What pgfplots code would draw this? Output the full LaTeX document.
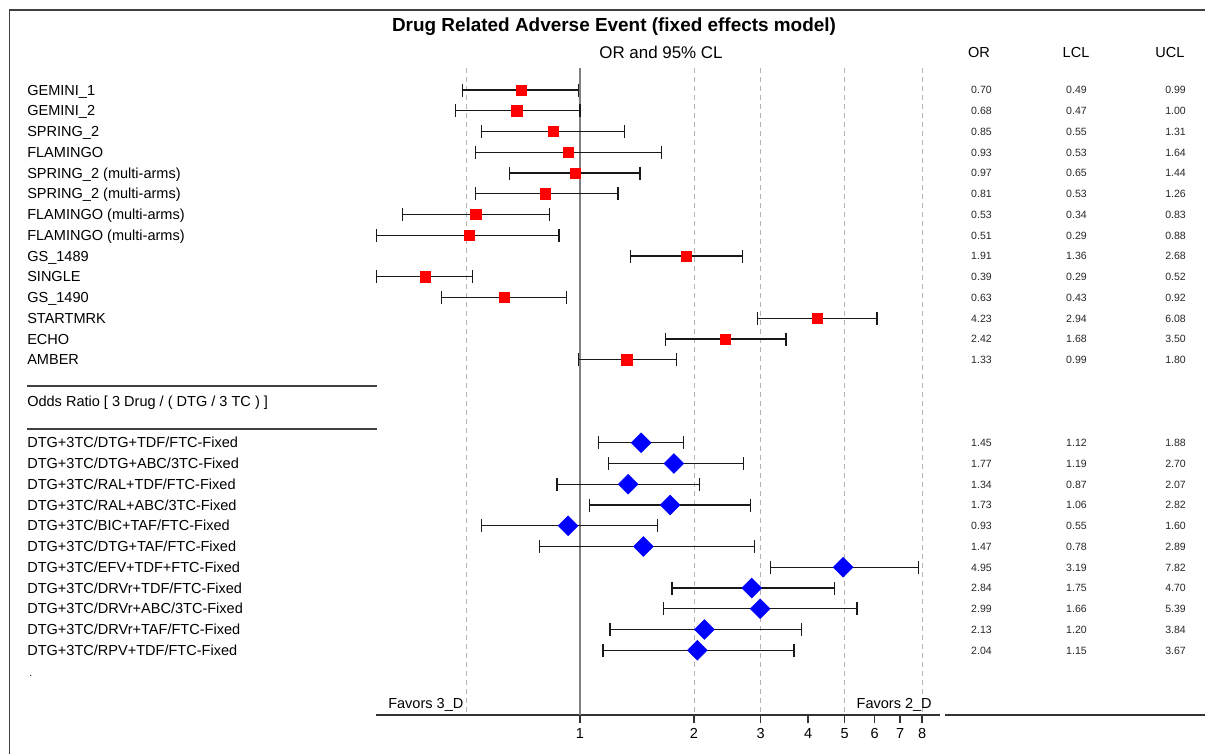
\documentclass[border=0pt]{standalone}
\usepackage{fontspec}
\setmainfont{Liberation Sans}
\usepackage{pgfplots}
\usepackage{pgfplotstable}
\pgfplotsset{compat=1.18}
\newlength\px \setlength\px{0.75pt}
\newcommand\lab{\fontsize{10.9}{12}\selectfont}
\newcommand\num{\fontsize{7.9}{9}\selectfont}
\newcommand\ttl{\fontsize{14.2}{16}\selectfont\bfseries}
\newcommand\sub{\fontsize{12.7}{14}\selectfont}
\newcommand\hdr{\fontsize{10.9}{12}\selectfont}

\pgfplotstableread{
row OR LCL UCL
0 0.70 0.49 0.99
1 0.68 0.47 1.00
2 0.85 0.55 1.31
3 0.93 0.53 1.64
4 0.97 0.65 1.44
5 0.81 0.53 1.26
6 0.53 0.34 0.83
7 0.51 0.29 0.88
8 1.91 1.36 2.68
9 0.39 0.29 0.52
10 0.63 0.43 0.92
11 4.23 2.94 6.08
12 2.42 1.68 3.50
13 1.33 0.99 1.80
}\studies

\pgfplotstableread{
row OR LCL UCL
17 1.45 1.12 1.88
18 1.77 1.19 2.70
19 1.34 0.87 2.07
20 1.73 1.06 2.82
21 0.93 0.55 1.60
22 1.47 0.78 2.89
23 4.95 3.19 7.82
24 2.84 1.75 4.70
25 2.99 1.66 5.39
26 2.13 1.20 3.84
27 2.04 1.15 3.67
}\combos

\pgfplotsset{ci/.style={black!90, line width=1.25\px, mark=|, mark size=6.5\px, mark options={solid, line width=1.25\px}}}

% draw the CI segment of every row of a table
\newcommand\drawcis[2]{%
  \pgfplotsforeachungrouped \i in {0,...,#2}{%
    \pgfplotstablegetelem{\i}{LCL}\of#1\let\lcl\pgfplotsretval
    \pgfplotstablegetelem{\i}{UCL}\of#1\let\ucl\pgfplotsretval
    \pgfplotstablegetelem{\i}{row}\of#1\let\rw\pgfplotsretval
    \edef\tmp{\noexpand\addplot[ci] coordinates {(\lcl,-\rw) (\ucl,-\rw)};}\tmp
  }%
}

\begin{document}
\begin{tikzpicture}
\useasboundingbox (0,0) rectangle (1205\px,753\px);
% frame
\draw[black!75, line width=1.8\px] (9.5\px,-5\px) -- (9.5\px,743\px) -- (1215\px,743\px);

% ---------- forest plot axis ----------
\begin{axis}[
  scale only axis, width=563.2\px, height=647.8\px,
  at={(376.4\px,38\px)}, anchor=south west,
  xmode=log, xmin=0.29, xmax=8.9, ymin=-30.12, ymax=1.1,
  clip=false,
  axis x line*=bottom, axis y line=none,
  x axis line style={black!80, line width=1.3\px},
  xtick={1,2,3,4,5,6,7,8}, xticklabels={1,2,3,4,5,6,7,8},
  minor xtick={}, xminorticks=false,
  tick align=outside, major tick length=8\px,
  every tick/.style={black!80, line width=1.3\px},
  xticklabel style={font=\lab, yshift=-1\px},
]
% reference lines
\addplot[black!30, dash pattern=on 5\px off 4\px, line width=1\px] coordinates {(0.5,1.06) (0.5,-30.12)};
\addplot[black!30, dash pattern=on 5\px off 4\px, line width=1\px] coordinates {(2,1.06) (2,-30.12)};
\addplot[black!30, dash pattern=on 5\px off 4\px, line width=1\px] coordinates {(3,1.06) (3,-30.12)};
\addplot[black!30, dash pattern=on 5\px off 4\px, line width=1\px] coordinates {(5,1.06) (5,-30.12)};
\addplot[black!30, dash pattern=on 5\px off 4\px, line width=1\px] coordinates {(8,1.06) (8,-30.12)};
\addplot[black!50, line width=1.5\px] coordinates {(1,1.06) (1,-30.12)};
% studies: squares then CI bars on top
\addplot[only marks, mark=square*, mark size=5.2\px, color=red] table[x=OR, y expr=-\thisrow{row}] {\studies};
\drawcis{\studies}{13}
% combos: CI bars then diamonds
\drawcis{\combos}{10}
\addplot[only marks, mark=square*, mark size=7\px, mark options={rotate=45}, color=blue] table[x=OR, y expr=-\thisrow{row}] {\combos};
\end{axis}

% ---------- text overlay axis (pixel coordinates) ----------
\begin{axis}[
  scale only axis, width=1205\px, height=753\px,
  at={(0,0)}, anchor=south west,
  xmin=0, xmax=1205, ymin=0, ymax=753, y dir=reverse,
  hide axis, clip=false,
]
\node[anchor=base, font=\ttl] at (axis cs:614,31.8) {Drug Related Adverse Event (fixed effects model)};
\node[anchor=base, font=\sub] at (axis cs:661,58) {OR and 95\% CL};
\node[anchor=base, font=\hdr] at (axis cs:979,57.2) {OR};
\node[anchor=base, font=\hdr] at (axis cs:1076,57.2) {LCL};
\node[anchor=base, font=\hdr] at (axis cs:1170,57.2) {UCL};

% row labels
\node[anchor=base west, font=\lab, inner sep=0pt] at (axis cs:27,95.2) {GEMINI\_1};
\node[anchor=base west, font=\lab, inner sep=0pt] at (axis cs:27,115.95) {GEMINI\_2};
\node[anchor=base west, font=\lab, inner sep=0pt] at (axis cs:27,136.7) {SPRING\_2};
\node[anchor=base west, font=\lab, inner sep=0pt] at (axis cs:27,157.45) {FLAMINGO};
\node[anchor=base west, font=\lab, inner sep=0pt] at (axis cs:27,178.2) {SPRING\_2 (multi-arms)};
\node[anchor=base west, font=\lab, inner sep=0pt] at (axis cs:27,198.95) {SPRING\_2 (multi-arms)};
\node[anchor=base west, font=\lab, inner sep=0pt] at (axis cs:27,219.7) {FLAMINGO (multi-arms)};
\node[anchor=base west, font=\lab, inner sep=0pt] at (axis cs:27,240.45) {FLAMINGO (multi-arms)};
\node[anchor=base west, font=\lab, inner sep=0pt] at (axis cs:27,261.2) {GS\_1489};
\node[anchor=base west, font=\lab, inner sep=0pt] at (axis cs:27,281.95) {SINGLE};
\node[anchor=base west, font=\lab, inner sep=0pt] at (axis cs:27,302.7) {GS\_1490};
\node[anchor=base west, font=\lab, inner sep=0pt] at (axis cs:27,323.45) {STARTMRK};
\node[anchor=base west, font=\lab, inner sep=0pt] at (axis cs:27,344.2) {ECHO};
\node[anchor=base west, font=\lab, inner sep=0pt] at (axis cs:27,364.95) {AMBER};

\draw[black!75, line width=1.2\px] (axis cs:27,386) -- (axis cs:377,386);
\node[anchor=base west, font=\lab, inner sep=0pt] at (axis cs:27,406.5) {Odds Ratio [ 3 Drug / ( DTG / 3 TC ) ]};
\draw[black!75, line width=1.2\px] (axis cs:27,429) -- (axis cs:377,429);

\node[anchor=base west, font=\lab, inner sep=0pt] at (axis cs:27,447.95) {DTG+3TC/DTG+TDF/FTC-Fixed};
\node[anchor=base west, font=\lab, inner sep=0pt] at (axis cs:27,468.7) {DTG+3TC/DTG+ABC/3TC-Fixed};
\node[anchor=base west, font=\lab, inner sep=0pt] at (axis cs:27,489.45) {DTG+3TC/RAL+TDF/FTC-Fixed};
\node[anchor=base west, font=\lab, inner sep=0pt] at (axis cs:27,510.2) {DTG+3TC/RAL+ABC/3TC-Fixed};
\node[anchor=base west, font=\lab, inner sep=0pt] at (axis cs:27,530.95) {DTG+3TC/BIC+TAF/FTC-Fixed};
\node[anchor=base west, font=\lab, inner sep=0pt] at (axis cs:27,551.7) {DTG+3TC/DTG+TAF/FTC-Fixed};
\node[anchor=base west, font=\lab, inner sep=0pt] at (axis cs:27,572.45) {DTG+3TC/EFV+TDF+FTC-Fixed};
\node[anchor=base west, font=\lab, inner sep=0pt] at (axis cs:27,593.2) {DTG+3TC/DRVr+TDF/FTC-Fixed};
\node[anchor=base west, font=\lab, inner sep=0pt] at (axis cs:27,613.95) {DTG+3TC/DRVr+ABC/3TC-Fixed};
\node[anchor=base west, font=\lab, inner sep=0pt] at (axis cs:27,634.7) {DTG+3TC/DRVr+TAF/FTC-Fixed};
\node[anchor=base west, font=\lab, inner sep=0pt] at (axis cs:27,655.45) {DTG+3TC/RPV+TDF/FTC-Fixed};
\node[anchor=base west, font=\num, inner sep=0pt] at (axis cs:29,676) {.};

\node[anchor=base west, font=\lab, inner sep=0pt] at (axis cs:388,708.3) {Favors 3\_D};
\node[anchor=base east, font=\lab, inner sep=0pt] at (axis cs:932,708.3) {Favors 2\_D};
\draw[black!80, line width=1.3\px] (axis cs:945,715) -- (axis cs:1215,715);

% value columns
\addplot[draw=none, mark=none, nodes near coords, point meta=explicit symbolic,
  nodes near coords style={anchor=base east, font=\num, inner sep=0pt, text=black!85}]
  table[x expr=992, y expr=90+20.75*\thisrow{row}+3.8, meta=OR] {\studies};
\addplot[draw=none, mark=none, nodes near coords, point meta=explicit symbolic,
  nodes near coords style={anchor=base east, font=\num, inner sep=0pt, text=black!85}]
  table[x expr=1087, y expr=90+20.75*\thisrow{row}+3.8, meta=LCL] {\studies};
\addplot[draw=none, mark=none, nodes near coords, point meta=explicit symbolic,
  nodes near coords style={anchor=base east, font=\num, inner sep=0pt, text=black!85}]
  table[x expr=1186, y expr=90+20.75*\thisrow{row}+3.8, meta=UCL] {\studies};
\addplot[draw=none, mark=none, nodes near coords, point meta=explicit symbolic,
  nodes near coords style={anchor=base east, font=\num, inner sep=0pt, text=black!85}]
  table[x expr=992, y expr=90+20.75*\thisrow{row}+3.8, meta=OR] {\combos};
\addplot[draw=none, mark=none, nodes near coords, point meta=explicit symbolic,
  nodes near coords style={anchor=base east, font=\num, inner sep=0pt, text=black!85}]
  table[x expr=1087, y expr=90+20.75*\thisrow{row}+3.8, meta=LCL] {\combos};
\addplot[draw=none, mark=none, nodes near coords, point meta=explicit symbolic,
  nodes near coords style={anchor=base east, font=\num, inner sep=0pt, text=black!85}]
  table[x expr=1186, y expr=90+20.75*\thisrow{row}+3.8, meta=UCL] {\combos};
\end{axis}
\end{tikzpicture}
\end{document}
